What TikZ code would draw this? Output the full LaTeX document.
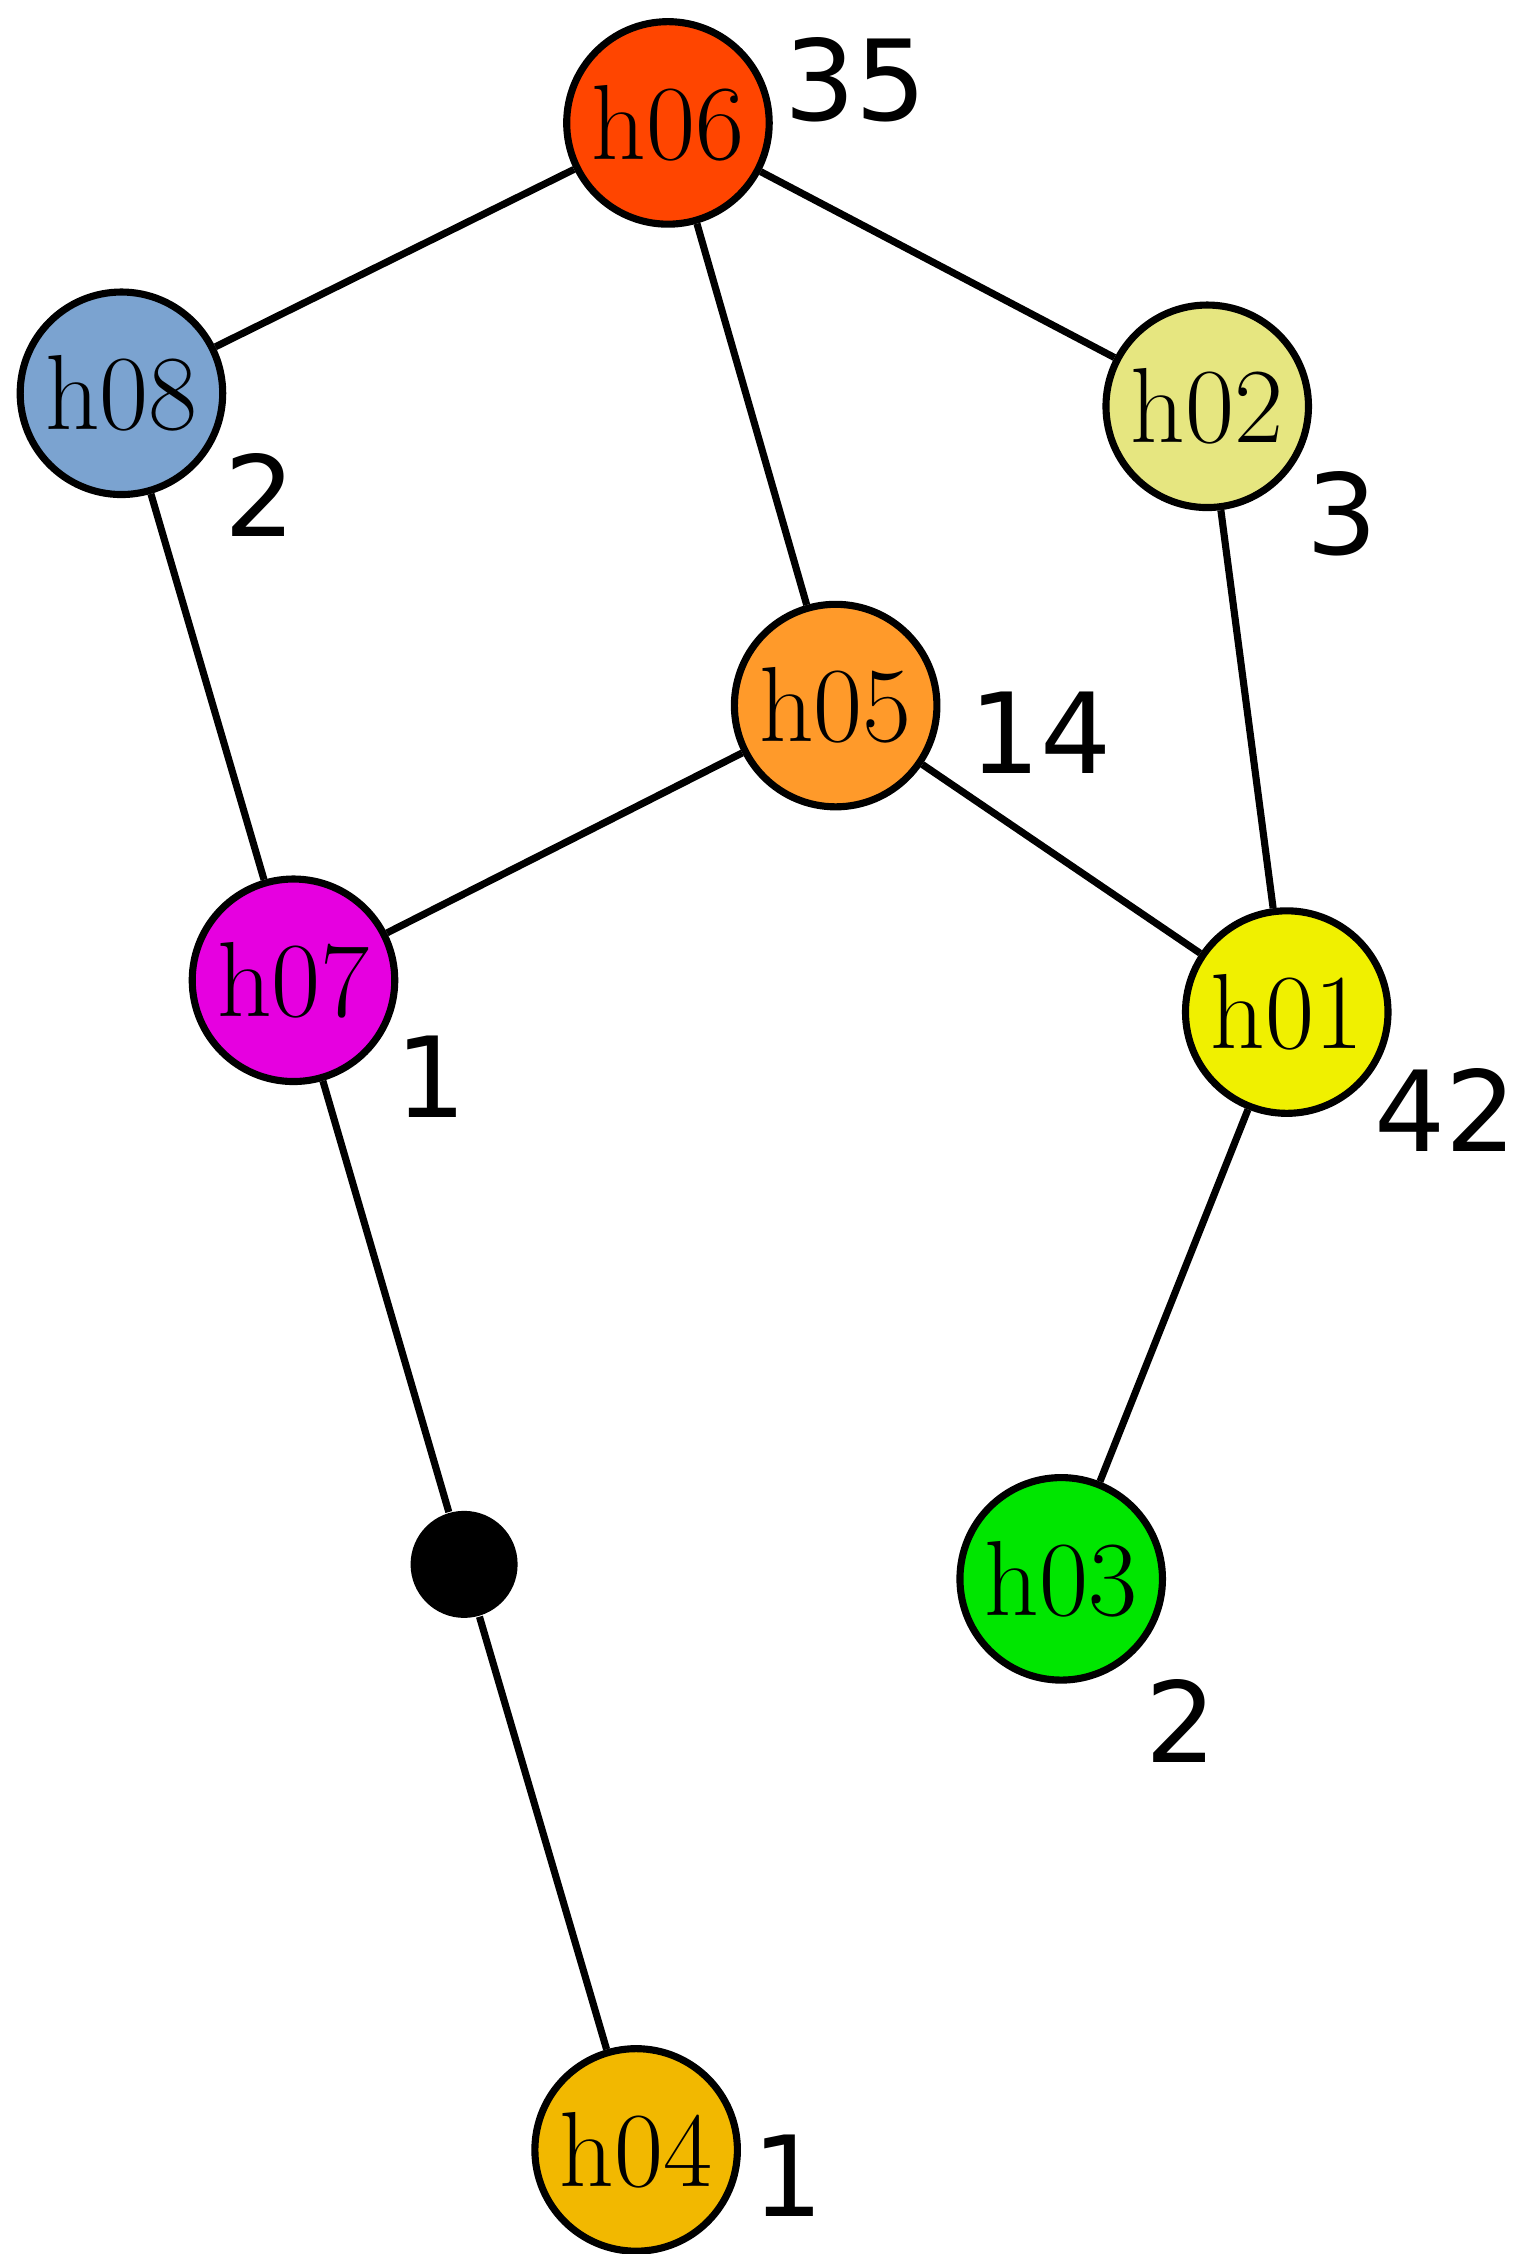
\documentclass[tikz,border=0pt]{standalone}
\usepackage{fontspec}
\newfontfamily\lblfont{DejaVu Sans}
\begin{document}
\begin{tikzpicture}[x=0.01cm,y=-0.01cm,
    hap/.style={circle,draw=black,line width=1.4pt,minimum size=1.4cm,inner sep=0pt,font=\fontsize{21}{24}\selectfont},
    cnt/.style={font=\lblfont\fontsize{22}{26}\selectfont},
    edge/.style={line width=1.4pt}]
    \useasboundingbox (0,0) rectangle (1050,1559);
    \definecolor{c06}{HTML}{FF4500}
    \definecolor{c08}{HTML}{7BA3D0}
    \definecolor{c02}{HTML}{E6E680}
    \definecolor{c05}{HTML}{FF9A2A}
    \definecolor{c07}{HTML}{E600E0}
    \definecolor{c01}{HTML}{F0F000}
    \definecolor{c03}{HTML}{00E600}
    \definecolor{c04}{HTML}{F2B800}
    % haplotypes
    \node[hap,fill=c06] (h06) at (462,85) {h06};
    \node[hap,fill=c08] (h08) at (84,272) {h08};
    \node[hap,fill=c02] (h02) at (835,281) {h02};
    \node[hap,fill=c05] (h05) at (578,488) {h05};
    \node[hap,fill=c07] (h07) at (203,678) {h07};
    \node[hap,fill=c01] (h01) at (890,700) {h01};
    \node[hap,fill=c03] (h03) at (734,1092) {h03};
    \node[hap,fill=c04] (h04) at (440,1487) {h04};
    \node[circle,fill=black,minimum size=0.74cm,inner sep=0pt] (mv) at (321,1082) {};
    % counts
    \node[cnt] (n06) at (592,55) {35};
    \node[cnt] (n08) at (180,342) {2};
    \node[cnt] (n02) at (928,355) {3};
    \node[cnt] (n05) at (720,507) {14};
    \node[cnt] (n07) at (298,745) {1};
    \node[cnt] (n01) at (1000,768) {42};
    \node[cnt] (n03) at (817,1190) {2};
    \node[cnt] (n04) at (545,1505) {1};
    % links
    \draw[edge] (h06) -- (h08);
    \draw[edge] (h06) -- (h02);
    \draw[edge] (h06) -- (h05);
    \draw[edge] (h08) -- (h07);
    \draw[edge] (h02) -- (h01);
    \draw[edge] (h05) -- (h07);
    \draw[edge] (h05) -- (h01);
    \draw[edge] (h07) -- (mv);
    \draw[edge] (mv) -- (h04);
    \draw[edge] (h01) -- (h03);
\end{tikzpicture}
\end{document}
